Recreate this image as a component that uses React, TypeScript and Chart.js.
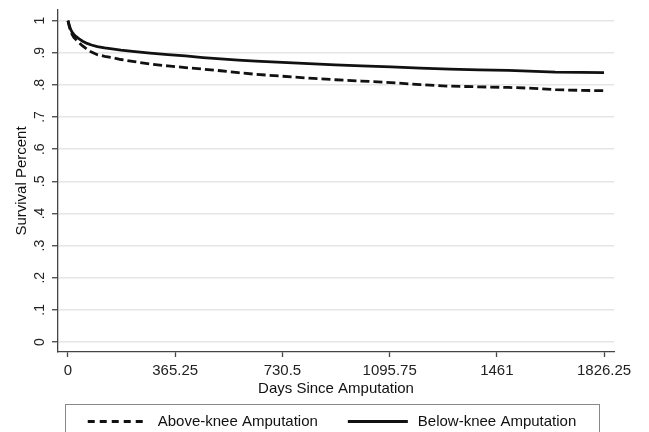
import React, { useEffect, useRef } from "react";
import { Chart, registerables } from "chart.js";
Chart.register(...registerables);

const days = [0, 2, 5, 9, 14, 20, 28, 38, 50, 65, 80, 100, 125, 150, 180, 220, 280, 340, 400, 460, 520, 580, 640, 730, 820, 910, 1000, 1100, 1200, 1300, 1400, 1500, 1570, 1660, 1750, 1826];
const aboveKnee = [1.0, 0.992, 0.98, 0.968, 0.957, 0.948, 0.94, 0.931, 0.921, 0.911, 0.902, 0.894, 0.889, 0.885, 0.879, 0.873, 0.865, 0.859, 0.854, 0.849, 0.844, 0.838, 0.833, 0.827, 0.821, 0.816, 0.812, 0.807, 0.801, 0.796, 0.794, 0.792, 0.79, 0.785, 0.783, 0.782];
const belowKnee = [1.0, 0.993, 0.983, 0.973, 0.964, 0.957, 0.95, 0.943, 0.936, 0.929, 0.924, 0.919, 0.915, 0.912, 0.908, 0.904, 0.899, 0.894, 0.89, 0.885, 0.881, 0.877, 0.874, 0.87, 0.866, 0.862, 0.859, 0.856, 0.852, 0.849, 0.847, 0.845, 0.843, 0.84, 0.839, 0.838];
const seriesLabels = ["Above-knee Amputation", "Below-knee Amputation"];
const xTicks = [0, 365.25, 730.5, 1095.75, 1461, 1826.25];
const yTicks = [0, 0.1, 0.2, 0.3, 0.4, 0.5, 0.6, 0.7, 0.8, 0.9, 1];
const yTickLabels = ["0", ".1", ".2", ".3", ".4", ".5", ".6", ".7", ".8", ".9", "1"];
const xTitle = "Days Since Amputation";
const yTitle = "Survival Percent";

const FONT = '"Liberation Sans", Arial, sans-serif';
const AXIS = "#444";

const customText = {
  id: "customText",
  afterDraw(chart: any) {
    const ctx = chart.ctx;
    const ys = chart.scales.y;
    ctx.save();
    ctx.font = `14px ${FONT}`;
    ctx.fillStyle = "#222";
    ctx.textAlign = "center";
    ctx.textBaseline = "middle";
    yTicks.forEach((v, i) => {
      const py = ys.getPixelForValue(v);
      ctx.save();
      ctx.translate(ys.right - 18, py);
      ctx.rotate(-Math.PI / 2);
      ctx.fillText(yTickLabels[i], 0, 0);
      ctx.restore();
    });
    ctx.restore();

    // legend
    const bx = 65, by = 404, bw = 534, bh = 40;
    ctx.save();
    ctx.strokeStyle = "#888";
    ctx.lineWidth = 1;
    ctx.strokeRect(bx + 0.5, by + 0.5, bw, bh);
    ctx.font = `15px ${FONT}`;
    const keyLen = 60, keyGap = 10, itemGap = 30;
    const widths = chart.data.datasets.map((d: any) => ctx.measureText(d.label).width);
    const total = widths.reduce((a: number, w: number) => a + keyLen + keyGap + w, 0) + itemGap * (widths.length - 1);
    let x = bx + (bw - total) / 2;
    const cy = 421.5;
    chart.data.datasets.forEach((d: any, i: number) => {
      ctx.beginPath();
      ctx.strokeStyle = d.borderColor;
      ctx.lineWidth = d.borderWidth;
      ctx.setLineDash(d.borderDash && d.borderDash.length ? [7, 5] : []);
      ctx.moveTo(x, cy);
      ctx.lineTo(x + keyLen, cy);
      ctx.stroke();
      ctx.setLineDash([]);
      ctx.fillStyle = "#111";
      ctx.textAlign = "left";
      ctx.textBaseline = "middle";
      ctx.fillText(d.label, x + keyLen + keyGap, cy);
      x += keyLen + keyGap + widths[i] + itemGap;
    });
    ctx.restore();
  },
};

export default function App() {
  const ref = useRef<HTMLCanvasElement>(null);
  useEffect(() => {
    if (!ref.current) return;
    const chart = new Chart(ref.current, {
      type: "line",
      data: {
        datasets: [
          {
            label: seriesLabels[0],
            data: days.map((d, i) => ({ x: d, y: aboveKnee[i] })),
            borderColor: "#111",
            borderWidth: 2.8,
            borderDash: [9, 4],
            pointRadius: 0,
            tension: 0,
            fill: false,
          },
          {
            label: seriesLabels[1],
            data: days.map((d, i) => ({ x: d, y: belowKnee[i] })),
            borderColor: "#111",
            borderWidth: 2.8,
            borderDash: [],
            pointRadius: 0,
            tension: 0,
            fill: false,
          },
        ],
      },
      options: {
        responsive: false,
        animation: false,
        events: [],
        layout: { padding: { top: 10, right: 35, left: 0, bottom: 0 } },
        plugins: { legend: { display: false }, tooltip: { enabled: false } },
        scales: {
          x: {
            type: "linear",
            min: -34,
            max: 1860,
            afterBuildTicks: (s: any) => {
              s.ticks = xTicks.map((v) => ({ value: v }));
            },
            afterFit: (s: any) => {
              s.height = 80;
            },
            ticks: {
              autoSkip: false,
              maxRotation: 0,
              minRotation: 0,
              padding: 5,
              color: "#222",
              font: { family: FONT, size: 15 },
              callback: (v: any) => String(v),
            },
            grid: { drawOnChartArea: false, drawTicks: true, tickLength: 5, tickColor: AXIS, tickWidth: 1.3 },
            border: { display: true, color: AXIS, width: 1.3 },
            title: {
              display: true,
              text: xTitle,
              color: "#111",
              font: { family: FONT, size: 15 },
              padding: { top: 0, bottom: 34 },
            },
          },
          y: {
            type: "linear",
            min: -0.031,
            max: 1.033,
            afterBuildTicks: (s: any) => {
              s.ticks = yTicks.map((v) => ({ value: v }));
            },
            afterFit: (s: any) => {
              s.width = 58;
            },
            ticks: { display: false },
            grid: { color: "#e6e6e6", lineWidth: 1.5, drawTicks: true, tickLength: 6, tickColor: AXIS, tickWidth: 1.3 },
            border: { display: true, color: AXIS, width: 1.3 },
            title: {
              display: true,
              text: yTitle,
              color: "#111",
              font: { family: FONT, size: 15 },
              padding: { top: 12.5, bottom: 0 },
            },
          },
        },
      },
      plugins: [customText],
    });
    return () => chart.destroy();
  }, []);
  return (
    <div style={{ position: "fixed", left: 0, top: 0, width: 649, height: 432, background: "#fff" }}>
      <canvas ref={ref} width={649} height={432} style={{ display: "block", width: 649, height: 432 }} />
    </div>
  );
}
